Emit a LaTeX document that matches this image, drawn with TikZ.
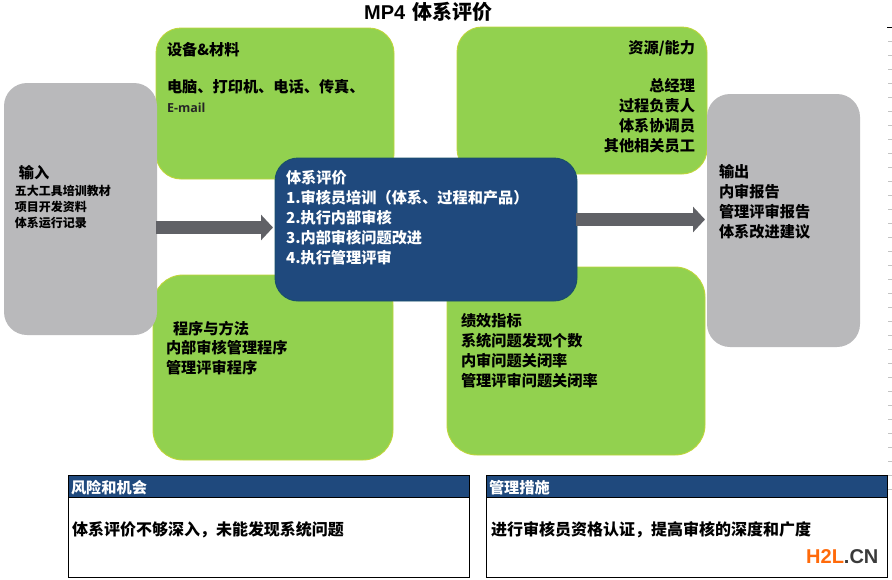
\documentclass[tikz,border=0pt]{standalone}
\usepackage{fontspec}
\setmainfont{Noto Sans CJK SC}
\newfontfamily\latinbold{Liberation Sans Bold}
\newfontfamily\emailfont{Open Sans}
\usetikzlibrary{arrows.meta}
\definecolor{grn}{HTML}{92D14F}
\definecolor{grnedge}{HTML}{BED53A}
\definecolor{gry}{HTML}{B9B9BB}
\definecolor{nvy}{HTML}{1F497D}
\definecolor{nvyedge}{HTML}{17506A}
\definecolor{arr}{HTML}{606166}
\definecolor{tick}{HTML}{C4C4C4}
\definecolor{h2lorange}{HTML}{FF6A0A}
\definecolor{h2lgray}{HTML}{3A3A3A}
\tikzset{
  shp/.style={anchor=north west,inner sep=0pt,outer sep=0pt},
  greenbox/.style={shp,fill=grn,draw=grnedge,line width=0.9pt,rounded corners=#1},
  graybox/.style={shp,fill=gry,rounded corners=23pt},
  bluebox/.style={shp,fill=nvy,draw=nvyedge,line width=0.9pt,rounded corners=23pt},
  tabhead/.style={shp,fill=nvy,draw=black,line width=1pt},
  tabbody/.style={shp,fill=white,draw=black,line width=1pt},
  label/.style={anchor=north west,inner sep=0pt,outer sep=0pt,align=left,yshift=-3.5pt,font=\fontsize{15.2}{20}\selectfont\bfseries},
  rlabel/.style={label,anchor=north east,align=right},
  blockarrow/.style={draw=arr,line width=13pt,-{Triangle[length=12pt,width=25pt]}},
  ticks/.style={draw=tick,line width=0.7pt}
}
\begin{document}
\begin{tikzpicture}[x=1pt,y=-1pt]
\useasboundingbox (0,0) rectangle (892,579);
% green panels
\node[greenbox=25pt,minimum width=238pt,minimum height=151pt] (equip) at (156,28) {};
\node[greenbox=25pt,minimum width=250pt,minimum height=147pt] (res) at (457,27) {};
\node[greenbox=30pt,minimum width=240pt,minimum height=185pt] (proc) at (153,275) {};
\node[greenbox=30pt,minimum width=258pt,minimum height=188pt] (perf) at (447,267) {};
% gray panels
\node[graybox,minimum width=153pt,minimum height=252pt] (input) at (4,83) {};
\node[graybox,minimum width=153pt,minimum height=253pt] (output) at (707,94) {};
% centre
\node[bluebox,minimum width=302pt,minimum height=143pt] (eval) at (275,158) {};
% arrows
\coordinate (ya) at (0,227.5);
\coordinate (yb) at (0,219.5);
\draw[blockarrow,shorten >=2pt,shorten <=-1pt] (input.east |- ya) -- (eval.west |- ya);
\draw[blockarrow,shorten >=2pt,shorten <=-1pt] (eval.east |- yb) -- (output.west |- yb);
% tables
\node[tabbody,minimum width=401.5pt,minimum height=102pt] (riskbody) at (68,475) {};
\node[tabhead,minimum width=401.5pt,minimum height=22pt] (riskhead) at (68,475) {};
\node[tabbody,minimum width=401pt,minimum height=102pt] (actbody) at (486,475) {};
\node[tabhead,minimum width=401pt,minimum height=22pt] (acthead) at (486,475) {};
% title
\node[anchor=west,inner sep=0pt,font=\fontsize{20}{24}\selectfont\bfseries] (title) at (364,12) {{\mdseries\latinbold MP4}\hspace{7pt}体系评价};
% texts
\node[label] (t1a) at (167,39) {设备\&材料};
\node[label] (t1b) at (167,76) {电脑、打印机、电话、传真、};
\node[label,font=\emailfont\fontsize{12.5}{15}\selectfont\bfseries,text=black!85] (t1c) at (167,99) {E-mail};
\node[rlabel] (t2a) at (695,37) {资源/能力};
\node[rlabel] (t2b) at (695,75) {总经理\\过程负责人\\体系协调员\\其他相关员工};
\node[label] (t3a) at (173,318) {程序与方法};
\node[label] (t3b) at (166,337) {内部审核管理程序\\管理评审程序};
\node[label] (t4) at (461,310) {绩效指标\\系统问题发现个数\\内审问题关闭率\\管理评审问题关闭率};
\node[label] (t5a) at (19,162) {输入};
\node[label,font=\fontsize{12}{16}\selectfont\bfseries] (t5b) at (15,182) {五大工具培训教材\\项目开发资料\\体系运行记录};
\node[label] (t6) at (719,161) {输出\\内审报告\\管理评审报告\\体系改进建议};
\node[label,text=white] (t7) at (286,167) {体系评价\\1.审核员培训（体系、过程和产品）\\2.执行内部审核\\3.内部审核问题改进\\4.执行管理评审};
\node[label,text=white] (t8) at (71,477) {风险和机会};
\node[label,text=white] (t9) at (489,477) {管理措施};
\node[label,font=\fontsize{16}{20}\selectfont\bfseries] (t10) at (72,518) {体系评价不够深入，未能发现系统问题};
\node[label,font=\fontsize{16}{20}\selectfont\bfseries] (t11) at (491,518) {进行审核员资格认证，提高审核的深度和广度};
\node[anchor=west,inner sep=0pt,font=\latinbold\fontsize{20}{22}\selectfont] (wm) at (806,557) {\textcolor{h2lorange}{H2L}\textcolor{h2lgray}{.CN}};
% sheet edge ticks
\draw[black,line width=0.8pt] (887,27) -- (892,27);
\foreach \yy in {41,55,...,497} \draw[ticks] (888,\yy) -- (892,\yy);
\end{tikzpicture}
\end{document}
